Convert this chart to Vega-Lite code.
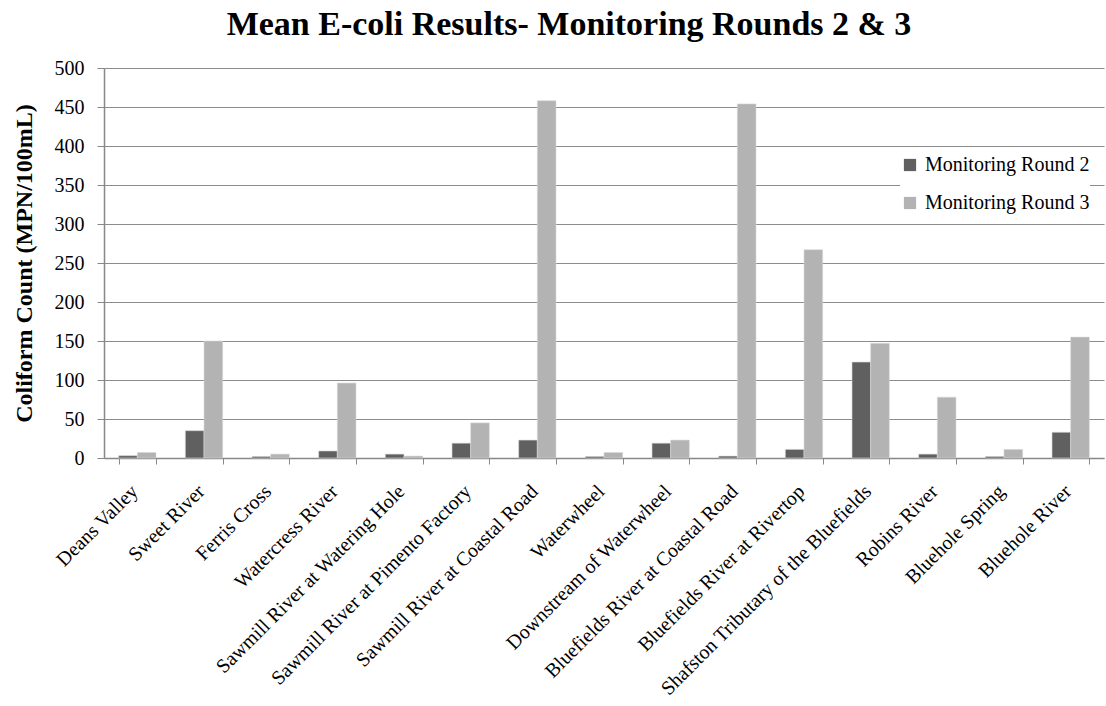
{
  "$schema": "https://vega.github.io/schema/vega-lite/v6.json",
  "autosize": {"type": "none"},
  "width": 1000,
  "height": 390,
  "padding": {"left": 104, "top": 68, "right": 2, "bottom": 248},
  "background": "white",
  "title": {
    "text": "Mean E-coli Results- Monitoring Rounds 2 & 3",
    "font": "Liberation Serif",
    "fontSize": 34,
    "fontWeight": "bold",
    "color": "black",
    "anchor": "middle",
    "offset": 16,
    "dx": -35
  },
  "config": {
    "view": {"stroke": null},
    "font": "Liberation Serif"
  },
  "data": {
    "values": [
      {"site": "Deans Valley", "round": "Monitoring Round 2", "value": 3},
      {"site": "Deans Valley", "round": "Monitoring Round 3", "value": 7},
      {"site": "Sweet River", "round": "Monitoring Round 2", "value": 35},
      {"site": "Sweet River", "round": "Monitoring Round 3", "value": 150},
      {"site": "Ferris Cross", "round": "Monitoring Round 2", "value": 2},
      {"site": "Ferris Cross", "round": "Monitoring Round 3", "value": 5},
      {"site": "Watercress River", "round": "Monitoring Round 2", "value": 9},
      {"site": "Watercress River", "round": "Monitoring Round 3", "value": 96},
      {"site": "Sawmill River at Watering Hole", "round": "Monitoring Round 2", "value": 5},
      {"site": "Sawmill River at Watering Hole", "round": "Monitoring Round 3", "value": 2.5},
      {"site": "Sawmill River at Pimento Factory", "round": "Monitoring Round 2", "value": 19},
      {"site": "Sawmill River at Pimento Factory", "round": "Monitoring Round 3", "value": 45},
      {"site": "Sawmill River at Coastal Road", "round": "Monitoring Round 2", "value": 23},
      {"site": "Sawmill River at Coastal Road", "round": "Monitoring Round 3", "value": 458},
      {"site": "Waterwheel", "round": "Monitoring Round 2", "value": 2},
      {"site": "Waterwheel", "round": "Monitoring Round 3", "value": 7},
      {"site": "Downstream of Waterwheel", "round": "Monitoring Round 2", "value": 19},
      {"site": "Downstream of Waterwheel", "round": "Monitoring Round 3", "value": 23},
      {"site": "Bluefields River at Coastal Road", "round": "Monitoring Round 2", "value": 2.5},
      {"site": "Bluefields River at Coastal Road", "round": "Monitoring Round 3", "value": 454},
      {"site": "Bluefields River at Rivertop", "round": "Monitoring Round 2", "value": 11},
      {"site": "Bluefields River at Rivertop", "round": "Monitoring Round 3", "value": 267},
      {"site": "Shafston Tributary of the Bluefields", "round": "Monitoring Round 2", "value": 123},
      {"site": "Shafston Tributary of the Bluefields", "round": "Monitoring Round 3", "value": 147},
      {"site": "Robins River", "round": "Monitoring Round 2", "value": 5},
      {"site": "Robins River", "round": "Monitoring Round 3", "value": 78},
      {"site": "Bluehole Spring", "round": "Monitoring Round 2", "value": 2},
      {"site": "Bluehole Spring", "round": "Monitoring Round 3", "value": 11},
      {"site": "Bluehole River", "round": "Monitoring Round 2", "value": 33},
      {"site": "Bluehole River", "round": "Monitoring Round 3", "value": 155}
    ]
  },
  "mark": {"type": "bar", "stroke": "#d9d9d9", "strokeWidth": 0.6},
  "encoding": {
    "x": {
      "field": "site",
      "type": "nominal",
      "sort": null,
      "title": null,
      "scale": {"paddingInner": 0.44, "paddingOuter": 0.22},
      "axis": {
        "labelAngle": -45,
        "labelAlign": "right",
        "labelBaseline": "middle",
        "labelFont": "Liberation Serif",
        "labelFontSize": 20,
        "labelColor": "black",
        "labelPadding": 24,
        "labelOffset": -3,
        "labelLimit": 400,
        "labelOverlap": false,
        "tickBand": "extent",
        "tickColor": "#888888",
        "tickSize": 6,
        "domainColor": "#888888",
        "domainWidth": 1.5
      }
    },
    "xOffset": {"field": "round", "type": "nominal", "scale": {"paddingInner": 0, "paddingOuter": 0}},
    "y": {
      "field": "value",
      "type": "quantitative",
      "title": "Coliform Count (MPN/100mL)",
      "scale": {"domain": [0, 500], "nice": false},
      "axis": {
        "values": [0, 50, 100, 150, 200, 250, 300, 350, 400, 450, 500],
        "labelFont": "Liberation Serif",
        "labelFontSize": 20,
        "labelColor": "black",
        "labelPadding": 13,
        "titleFont": "Liberation Serif",
        "titleFontSize": 24,
        "titleFontWeight": "bold",
        "titleColor": "black",
        "titlePadding": 18,
        "tickColor": "#888888",
        "tickSize": 7,
        "domainColor": "#888888",
        "domainWidth": 1.5,
        "gridColor": "#8c8c8c",
        "gridWidth": 1.2
      }
    },
    "color": {
      "field": "round",
      "type": "nominal",
      "title": null,
      "scale": {"domain": ["Monitoring Round 2", "Monitoring Round 3"], "range": ["#606060", "#b3b3b3"]},
      "legend": {
        "orient": "none",
        "legendX": 796,
        "legendY": 87,
        "symbolType": "square",
        "symbolSize": 150,
        "symbolStrokeWidth": 0,
        "labelFont": "Liberation Serif",
        "labelFontSize": 20,
        "labelColor": "black",
        "labelLimit": 300,
        "rowPadding": 18,
        "labelOffset": 5,
        "fillColor": "white"
      }
    }
  }
}
